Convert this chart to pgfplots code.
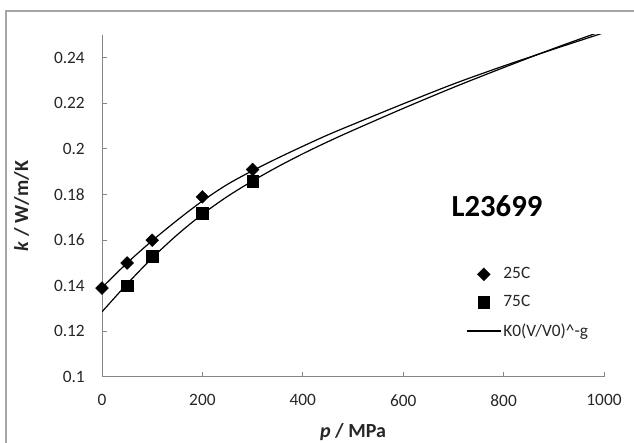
\documentclass[border=0pt]{standalone}
\usepackage{pgfplots}
\pgfplotsset{compat=1.18}
\usepackage{fontspec}
\setmainfont{Carlito}
\definecolor{axgray}{HTML}{868686}
\definecolor{framegray}{HTML}{A6A6A6}
\definecolor{txt}{HTML}{262626}
\pgfplotsset{
  markleg/.style={legend image code/.code={\draw[##1,mark repeat=2,mark phase=2] plot coordinates {(0pt,0pt)(12.75pt,0pt)(25.5pt,0pt)};}},
  lineleg/.style={legend image code/.code={\draw[##1] (0pt,0pt) -- (25.5pt,0pt);}},
}
\begin{document}
\begin{tikzpicture}[x=0.75pt,y=0.75pt]
\useasboundingbox (0,0) rectangle (634,442);
\draw[framegray, line width=0.9pt] (6,-20) -- (6,431) -- (660,431);
\begin{axis}[
  at={(76.5pt,48.75pt)}, anchor=south west,
  scale only axis, width=376.5pt, height=256.5pt,
  xmin=0, xmax=1000, ymin=0.1, ymax=0.25,
  axis x line=bottom, axis y line=left,
  axis line style={-, draw=axgray, line width=0.75pt},
  tick style={draw=axgray, line width=0.75pt},
  tick align=inside, major tick length=3.75pt,
  xtick={0,200,400,600,800,1000},
  xticklabels={0,200,400,600,800,1000},
  ytick={0.1,0.12,0.14,0.16,0.18,0.2,0.22,0.24},
  yticklabels={0.1,0.12,0.14,0.16,0.18,0.2,0.22,0.24},
  ticklabel style={font=\fontsize{13}{15}\selectfont, text=txt},
  yticklabel style={inner sep=0pt, xshift=-12.75pt},
  xticklabel style={inner sep=0pt, yshift=-13pt},
  clip mode=individual,
  legend style={at={(axis description cs:0.725,0.2164)}, anchor=west,
    draw=none, fill=none, inner sep=0pt, row sep=8pt,
    font=\fontsize{13}{15}\selectfont, text=txt,
    nodes={inner sep=1.5pt}},
  legend cell align=left,
]
\addplot[only marks, mark=square*, mark size=3.4pt, mark options={rotate=45, fill=black, draw=black, line width=0.3pt}, markleg]
  coordinates {(0,0.139) (50,0.150) (100,0.160) (200,0.179) (300,0.191)};
\addlegendentry{25C}
\addplot[only marks, mark=square*, mark size=4.4pt, mark options={fill=black, draw=black, line width=0.3pt}, markleg]
  coordinates {(50,0.140) (100,0.153) (200,0.172) (300,0.186)};
\addlegendentry{75C}
\addplot[black, line width=0.9pt, smooth, no marks, lineleg]
  coordinates {(0,0.1392) (50,0.1500) (100,0.1598) (150,0.1688) (200,0.1772) (250,0.1845) (300,0.1905) (350,0.1960) (400,0.2012) (450,0.2062) (500,0.2108) (600,0.2198) (700,0.2285) (800,0.2364) (900,0.2438) (1000,0.2510)};
\addlegendentry{K0(V/V0)\textasciicircum-g}
\addplot[black, line width=0.9pt, smooth, no marks, forget plot]
  coordinates {(0,0.1286) (50,0.1408) (100,0.1522) (150,0.1624) (200,0.1714) (250,0.1792) (300,0.1860) (350,0.1922) (400,0.1979) (450,0.2032) (500,0.2082) (600,0.2178) (700,0.2270) (800,0.2357) (900,0.2441) (1000,0.2520)};
\end{axis}
\node[anchor=base, font=\fontsize{23}{26}\selectfont\bfseries, text=black, inner sep=0pt] at (497,225) {L23699};
\node[anchor=base, font=\fontsize{15}{18}\selectfont\bfseries, text=txt, inner sep=0pt] at (353,5) {\textit{p} / MPa};
\node[anchor=base, rotate=90, font=\fontsize{15}{18}\selectfont\bfseries, text=txt, inner sep=0pt] at (28,236) {\textit{k} / W/m/K};
\end{tikzpicture}
\end{document}
